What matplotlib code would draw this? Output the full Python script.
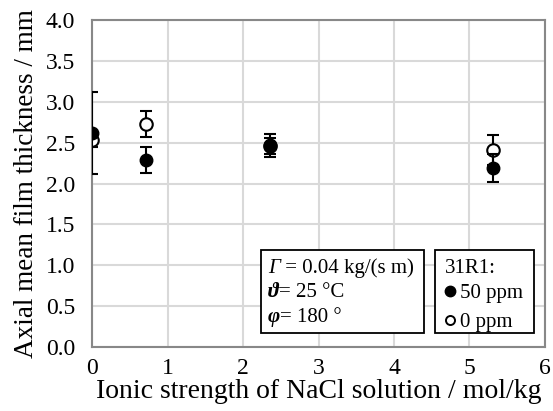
import matplotlib
matplotlib.use("Agg")
import matplotlib.pyplot as plt
from matplotlib.patches import Rectangle
from matplotlib.lines import Line2D

plt.rcParams['font.family'] = ['Liberation Serif', 'DejaVu Serif']

# data
ionic_50 = [0.0, 0.72, 2.36, 5.31]
thick_50 = [2.62, 2.29, 2.47, 2.19]
err_50 = [0.50, 0.16, 0.14, 0.17]

ionic_0 = [0.0, 0.72, 2.36, 5.31]
thick_0 = [2.53, 2.73, 2.46, 2.41]
err_0 = [0.08, 0.16, 0.10, 0.18]

xticks = [0, 1, 2, 3, 4, 5, 6]
yticks = [0.0, 0.5, 1.0, 1.5, 2.0, 2.5, 3.0, 3.5, 4.0]

cond_syms = ['Γ', 'ϑ', 'φ']
cond_texts = [' = 0.04 kg/(s m)', '= 25 °C', '= 180 °']
legend_title = '31R1:'
legend_labels = ['50 ppm', '0 ppm']

fig = plt.figure(figsize=(5.53, 4.11), dpi=100)
ax = fig.add_axes([0.1664, 0.1557, 0.8191, 0.7956])

ax.errorbar(ionic_0, thick_0, yerr=err_0, fmt='o', mfc='white', mec='black',
            mew=1.5, ms=9, ecolor='black', elinewidth=1.5, capsize=4.5,
            capthick=1.5, zorder=3)
ax.errorbar(ionic_50, thick_50, yerr=err_50, fmt='o', mfc='black', mec='black',
            ms=9, ecolor='black', elinewidth=1.5, capsize=4.5,
            capthick=1.5, zorder=4)

ax.set_xlim(0, 6)
ax.set_ylim(0, 4)
ax.set_xticks(xticks)
ax.set_yticks(yticks)
ax.set_yticklabels([f"{v:.1f}" for v in yticks])
ax.tick_params(axis='both', length=0, labelsize=17)
ax.tick_params(axis='x', pad=8)
ax.tick_params(axis='y', pad=12)
ax.grid(True, color='#d9d9d9', linewidth=1.5)
ax.set_axisbelow(True)
for s in ax.spines.values():
    s.set_color('#888888')
    s.set_linewidth(1.5)

ax.set_xlabel('Ionic strength of NaCl solution / mol/kg', fontsize=20, labelpad=0)
ax.set_ylabel('Axial mean film thickness / mm', fontsize=19.5, labelpad=5)

box_bottom, box_h = 0.0428, 0.2538

# condition box
ax.add_patch(Rectangle((0.373, box_bottom), 0.360, box_h, transform=ax.transAxes,
                       fc='white', ec='black', lw=1.3, zorder=6))
sym_props = [dict(style='italic'), dict(style='italic', weight='bold'),
             dict(style='italic', weight='bold')]
base_y = [0.2263, 0.1529, 0.0765]
for sym, txt, props, yb in zip(cond_syms, cond_texts, sym_props, base_y):
    t1 = ax.text(0.3885, yb, sym, transform=ax.transAxes, fontsize=15,
                 va='baseline', ha='left', zorder=7, **props)
    ax.annotate(txt, xy=(1, 0), xycoords=t1, xytext=(0, 0),
                textcoords='offset points', fontsize=15, va='bottom',
                ha='left', zorder=7, annotation_clip=False)

# legend box
ax.add_patch(Rectangle((0.757, box_bottom), 0.2185, box_h, transform=ax.transAxes,
                       fc='white', ec='black', lw=1.3, zorder=6))
ax.text(0.779, 0.2263, legend_title, transform=ax.transAxes, fontsize=15,
        va='baseline', ha='left', zorder=7)
handles = [Line2D([], [], marker='o', ls='none', mfc='black', mec='black', ms=7.5),
           Line2D([], [], marker='o', ls='none', mfc='white', mec='black',
                  mew=1.4, ms=6.5)]
leg = ax.legend(handles, legend_labels, loc='upper left',
                bbox_to_anchor=(0.774, 0.193), frameon=False, fontsize=15,
                handlelength=0.7, handletextpad=0.13, borderpad=0,
                borderaxespad=0, labelspacing=0.45)
leg.set_zorder(7)

fig.savefig('out.png', dpi=100)
